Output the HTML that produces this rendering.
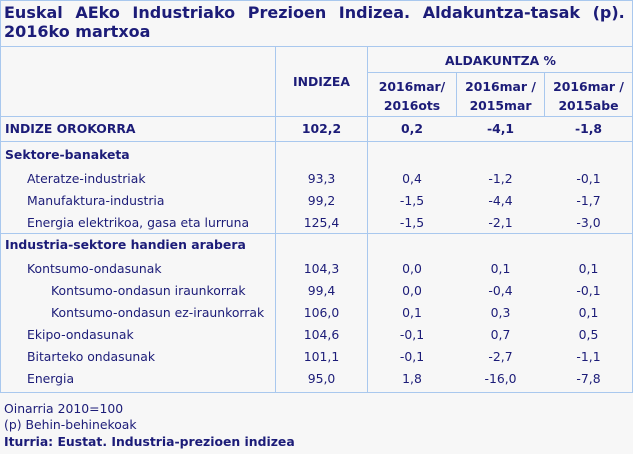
<!DOCTYPE html>
<html><head><style>
body{margin:0;width:633px;height:454px;background:#f7f7f7;position:relative;overflow:hidden;font-family:"DejaVu Sans",Verdana,sans-serif;color:#1c1c78;font-size:12.4px}
.a{position:absolute;white-space:nowrap}
.h{position:absolute;background:#a9c8ee;height:1px}
.v{position:absolute;background:#a9c8ee;width:1px}
.c{position:absolute;text-align:center;white-space:nowrap}
b{font-weight:bold}
</style></head><body>
<div class="h" style="left:0;top:0;width:633px"></div>
<div class="v" style="left:0;top:0;height:393px"></div>
<div class="v" style="left:632px;top:0;height:393px"></div>
<div class="a" style="left:4px;top:3px;font-size:16px;font-weight:bold;line-height:19px;word-spacing:7px">Euskal AEko Industriako Prezioen Indizea. Aldakuntza-tasak (p).</div>
<div class="a" style="left:4px;top:22px;font-size:16px;font-weight:bold;line-height:19px">2016ko martxoa</div>
<div class="h" style="left:0;top:46px;width:633px"></div>
<div class="h" style="left:367px;top:72px;width:266px"></div>
<div class="h" style="left:0;top:116px;width:633px"></div>
<div class="h" style="left:0;top:141px;width:633px"></div>
<div class="h" style="left:0;top:233px;width:633px"></div>
<div class="h" style="left:0;top:392px;width:633px"></div>
<div class="v" style="left:275px;top:46px;height:347px"></div>
<div class="v" style="left:367px;top:46px;height:347px"></div>
<div class="v" style="left:456px;top:72px;height:44px"></div>
<div class="v" style="left:544px;top:72px;height:44px"></div>
<div class="c" style="left:276px;width:91px;top:74px;font-weight:bold">INDIZEA</div>
<div class="c" style="left:368px;width:265px;top:53px;font-weight:bold">ALDAKUNTZA %</div>
<div class="c" style="left:368px;width:88px;top:77px;font-weight:bold;line-height:19px">2016mar/<br>2016ots</div>
<div class="c" style="left:457px;width:87px;top:77px;font-weight:bold;line-height:19px">2016mar /<br>2015mar</div>
<div class="c" style="left:545px;width:87px;top:77px;font-weight:bold;line-height:19px">2016mar /<br>2015abe</div>
<div id="rows"></div>
<script>
var R=[
[121,5,"INDIZE OROKORRA","102,2","0,2","-4,1","-1,8",1],
[147,5,"Sektore-banaketa","","","","",1],
[171,27,"Ateratze-industriak","93,3","0,4","-1,2","-0,1"],
[193,27,"Manufaktura-industria","99,2","-1,5","-4,4","-1,7"],
[215,27,"Energia elektrikoa, gasa eta lurruna","125,4","-1,5","-2,1","-3,0"],
[237,5,"Industria-sektore handien arabera","","","","",1],
[261,27,"Kontsumo-ondasunak","104,3","0,0","0,1","0,1"],
[283,51,"Kontsumo-ondasun iraunkorrak","99,4","0,0","-0,4","-0,1"],
[305,51,"Kontsumo-ondasun ez-iraunkorrak","106,0","0,1","0,3","0,1"],
[327,27,"Ekipo-ondasunak","104,6","-0,1","0,7","0,5"],
[349,27,"Bitarteko ondasunak","101,1","-0,1","-2,7","-1,1"],
[371,27,"Energia","95,0","1,8","-16,0","-7,8"]];
var X=[[276,91],[368,88],[457,87],[545,87]],h="";
R.forEach(function(r){var fw=r[7]?"bold":"normal";
h+='<div class="a" style="left:'+r[1]+'px;top:'+r[0]+'px;font-weight:'+fw+'">'+r[2]+'</div>';
for(var i=0;i<4;i++)h+='<div class="c" style="left:'+X[i][0]+'px;width:'+X[i][1]+'px;top:'+r[0]+'px;font-weight:'+fw+'">'+r[3+i]+'</div>';});
document.getElementById("rows").innerHTML=h;
</script>
<div class="a" style="left:4px;top:401px">Oinarria 2010=100</div>
<div class="a" style="left:4px;top:417px">(p) Behin-behinekoak</div>
<div class="a" style="left:4px;top:434px;font-weight:bold">Iturria: Eustat. Industria-prezioen indizea</div>
</body></html>
